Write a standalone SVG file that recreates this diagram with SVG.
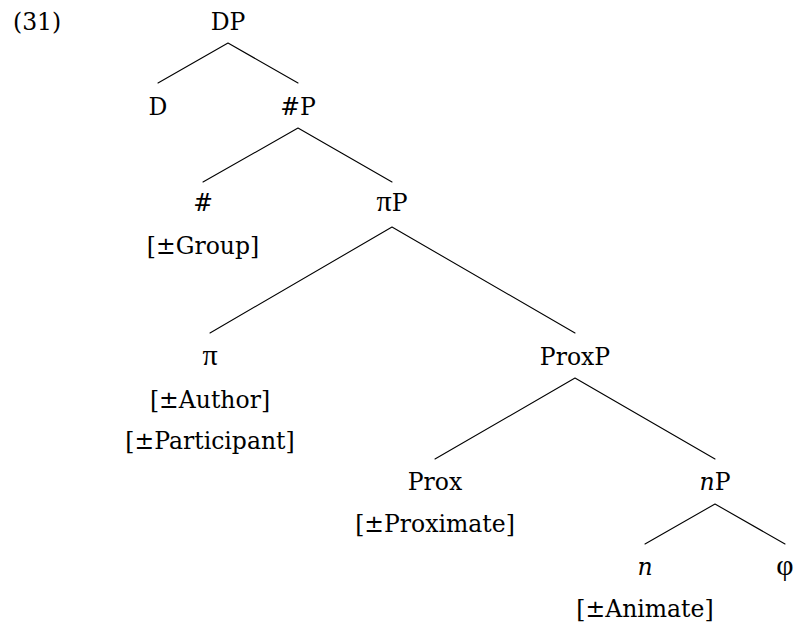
<svg xmlns="http://www.w3.org/2000/svg" width="795" height="626" viewBox="0 0 795 626">
  <style>
    text { font-family: "DejaVu Serif", "Liberation Serif", serif; font-size: 23.5px; fill: #000; text-anchor: middle; }
    .ex { text-anchor: start; }
    .it { font-style: italic; }
    .gr { font-family: "Liberation Serif", "DejaVu Serif", serif; font-size: 30px; }
    .edge { stroke: #000; stroke-width: 1.1; fill: none; stroke-linecap: round; }
  </style>
  <rect width="795" height="626" fill="#fff"/>

  <!-- example number -->
  <text class="ex" x="13" y="30">(31)</text>

  <!-- branches -->
  <g id="edges">
    <path class="edge" d="M228,43 L158,83 M228,43 L298,83"/>
    <path class="edge" d="M298,128 L203,182 M298,128 L392,182"/>
    <path class="edge" d="M392,227 L210,333 M392,227 L575,333"/>
    <path class="edge" d="M575,378 L435,459 M575,378 L715,459"/>
    <path class="edge" d="M715,504 L645,544 M715,504 L785,544"/>
  </g>

  <g id="DP"><text x="228" y="30">DP</text></g>
  <g id="D"><text x="158" y="115">D</text></g>
  <g id="NumP"><text x="298" y="115">#P</text></g>
  <g id="Num">
    <text x="203" y="211">#</text>
    <text x="203" y="254">[±Group]</text>
  </g>
  <g id="piP"><text x="392" y="211"><tspan class="gr">π</tspan>P</text></g>
  <g id="pi">
    <text class="gr" x="210" y="365">π</text>
    <text x="210" y="408">[±Author]</text>
    <text x="210" y="449">[±Participant]</text>
  </g>
  <g id="ProxP"><text x="575" y="365">ProxP</text></g>
  <g id="Prox">
    <text x="435" y="490">Prox</text>
    <text x="435" y="532">[±Proximate]</text>
  </g>
  <g id="nP"><text x="715" y="490"><tspan class="it">n</tspan>P</text></g>
  <g id="n">
    <text class="it" x="645" y="575">n</text>
    <text x="645" y="617">[±Animate]</text>
  </g>
  <g id="phi"><text class="gr" x="785" y="575">φ</text></g>
</svg>
